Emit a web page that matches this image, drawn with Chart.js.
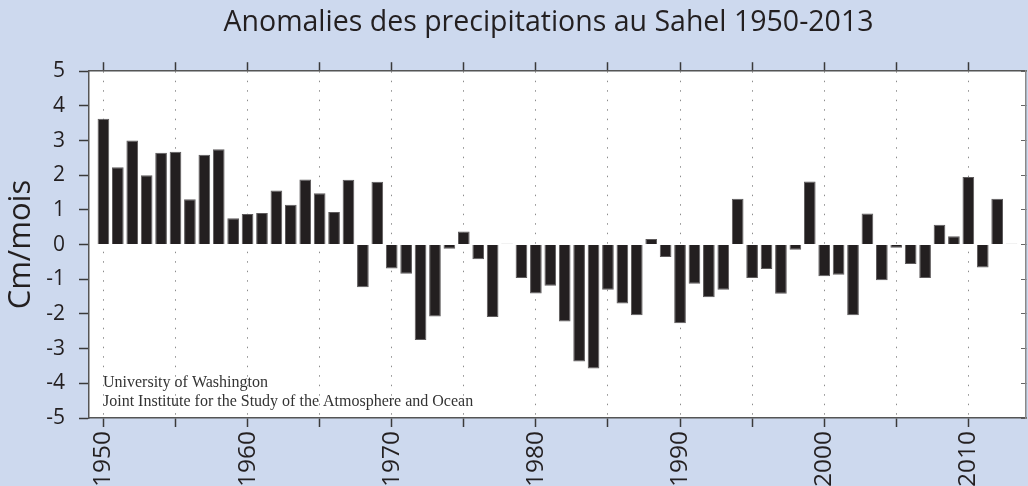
<!DOCTYPE html>
<html lang="fr">
<head>
  <meta charset="UTF-8" />
  <title>Anomalies des precipitations au Sahel 1950-2013</title>
  <script src="https://cdn.jsdelivr.net/npm/chart.js"></script>
  <style>
    html, body {
      margin: 0;
      padding: 0;
      background-color: #cdd9ee;
    }
    canvas {
      display: block;
    }
  </style>
</head>
<body>
  <canvas id="sahelChart" width="1028" height="486"></canvas>

  <script>
    const chartTitle = 'Anomalies des precipitations au Sahel 1950-2013';
    const yTitle = 'Cm/mois';
    const creditLines = [
      'University of Washington',
      'Joint Institute for the Study of the Atmosphere and Ocean'
    ];

    const years = [
      1950, 1951, 1952, 1953, 1954, 1955, 1956, 1957, 1958, 1959,
      1960, 1961, 1962, 1963, 1964, 1965, 1966, 1967, 1968, 1969,
      1970, 1971, 1972, 1973, 1974, 1975, 1976, 1977, 1978, 1979,
      1980, 1981, 1982, 1983, 1984, 1985, 1986, 1987, 1988, 1989,
      1990, 1991, 1992, 1993, 1994, 1995, 1996, 1997, 1998, 1999,
      2000, 2001, 2002, 2003, 2004, 2005, 2006, 2007, 2008, 2009,
      2010, 2011, 2012, 2013
    ];

    // anomalies in cm/month
    const anomalies = [
      3.63, 2.23, 3.00, 2.00, 2.65, 2.68, 1.31, 2.59, 2.75, 0.76,
      0.88, 0.91, 1.56, 1.15, 1.88, 1.48, 0.94, 1.87, -1.23, 1.81,
      -0.69, -0.84, -2.75, -2.07, -0.12, 0.38, -0.42, -2.09, 0.03, -0.96,
      -1.41, -1.19, -2.22, -3.37, -3.57, -1.30, -1.70, -2.04, 0.16, -0.36,
      -2.27, -1.13, -1.52, -1.30, 1.32, -0.96, -0.70, -1.42, -0.15, 1.82,
      -0.91, -0.87, -2.04, 0.90, -1.03, -0.09, -0.56, -0.96, 0.57, 0.24,
      1.95, -0.66, 1.32, 0.03
    ];

    // tick marks every 5 years, labels on the decades
    const tickYears = [1950, 1955, 1960, 1965, 1970, 1975, 1980, 1985, 1990, 1995, 2000, 2005, 2010];
    const labelYears = [1950, 1960, 1970, 1980, 1990, 2000, 2010];

    const yearMin = 1949;
    const yearMax = 2014;
    const yMin = -5;
    const yMax = 5;

    Chart.defaults.font.family = '"Open Sans", "Noto Sans", sans-serif';
    Chart.defaults.color = '#231f20';

    // white plot area on the blue page
    const plotBackground = {
      id: 'plotBackground',
      beforeDraw(chart) {
        const { ctx, chartArea: a } = chart;
        ctx.save();
        ctx.fillStyle = '#ffffff';
        ctx.fillRect(a.left, a.top, a.right - a.left, a.bottom - a.top);
        ctx.restore();
      }
    };

    // title sits a little left of the plot centre in the original
    const titleNudge = {
      id: 'titleNudge',
      afterLayout(chart) {
        if (chart.titleBlock) {
          chart.titleBlock.left -= 9;
          chart.titleBlock.right -= 9;
        }
      }
    };

    // source note in the lower left corner
    const credits = {
      id: 'credits',
      afterDatasetsDraw(chart) {
        const { ctx, chartArea: a } = chart;
        ctx.save();
        ctx.font = '16px "Liberation Serif", "Times New Roman", serif';
        ctx.fillStyle = '#333333';
        ctx.textBaseline = 'alphabetic';
        creditLines.forEach((line, i) => {
          ctx.fillText(line, a.left + 14, a.bottom - 31 + i * 19);
        });
        ctx.restore();
      }
    };

    const isFlat = v => Math.abs(v) < 0.05;
    const setYearTicks = s => { s.ticks = tickYears.map(v => ({ value: v })); };

    new Chart(document.getElementById('sahelChart'), {
      type: 'bar',
      data: {
        datasets: [{
          data: years.map((year, i) => ({ x: year, y: anomalies[i] })),
          backgroundColor: anomalies.map(v => isFlat(v) ? '#c4c4c4' : '#231f20'),
          borderColor: anomalies.map(v => isFlat(v) ? '#c4c4c4' : '#5e5b5c'),
          borderWidth: 1,
          barPercentage: 0.81,
          categoryPercentage: 1,
          xAxisID: 'x',
          yAxisID: 'y'
        }]
      },
      options: {
        responsive: false,
        animation: false,
        devicePixelRatio: 1,
        layout: { padding: 0 },
        plugins: {
          legend: { display: false },
          tooltip: { enabled: false },
          title: {
            display: true,
            text: chartTitle,
            fullSize: false,
            color: '#231f20',
            font: { size: 28.5, weight: 'normal' },
            padding: { top: 6, bottom: 0 }
          }
        },
        scales: {
          x: {
            type: 'linear',
            position: 'bottom',
            min: yearMin,
            max: yearMax,
            offset: false,
            afterBuildTicks: setYearTicks,
            afterFit: s => { s.height = 68; },
            ticks: {
              autoSkip: false,
              minRotation: 90,
              maxRotation: 90,
              padding: 4,
              font: { size: 24.5 },
              callback: v => (labelYears.includes(v) ? String(v) : '')
            },
            grid: {
              offset: false,
              color: '#8c8c8c',
              lineWidth: 1,
              tickLength: 9,
              tickColor: '#3a3a3a',
              tickWidth: 1.5
            },
            border: { color: '#555555', width: 1.5, dash: [1.5, 8] }
          },
          xTop: {
            type: 'linear',
            position: 'top',
            min: yearMin,
            max: yearMax,
            offset: false,
            afterBuildTicks: setYearTicks,
            afterFit: s => { s.height = 31; },
            ticks: { display: false },
            grid: {
              offset: false,
              drawOnChartArea: false,
              tickLength: 9,
              tickColor: '#3a3a3a',
              tickWidth: 1.5
            },
            border: { color: '#555555', width: 1.5 }
          },
          y: {
            position: 'left',
            min: yMin,
            max: yMax,
            afterFit: s => { s.width = 89; },
            ticks: { stepSize: 1, padding: 14, font: { size: 21 } },
            grid: {
              drawOnChartArea: false,
              tickLength: 10,
              tickColor: '#3a3a3a',
              tickWidth: 1.5
            },
            border: { color: '#555555', width: 1.5 },
            title: {
              display: true,
              text: yTitle,
              font: { size: 31 },
              padding: { top: 3, bottom: 0 }
            }
          },
          yRight: {
            position: 'right',
            min: yMin,
            max: yMax,
            afterFit: s => { s.width = 2; },
            ticks: { display: false, stepSize: 1 },
            grid: {
              drawOnChartArea: false,
              tickLength: -5,
              tickColor: '#666666',
              tickWidth: 1
            },
            border: { color: '#8a8a8a', width: 1.5 }
          }
        }
      },
      plugins: [plotBackground, titleNudge, credits]
    });
  </script>
</body>
</html>
